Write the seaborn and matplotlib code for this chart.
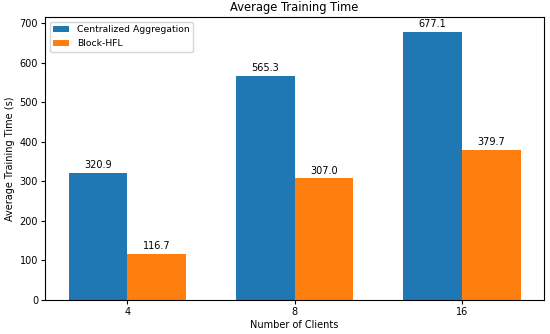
import pandas as pd
import matplotlib
matplotlib.use("Agg")
import matplotlib.pyplot as plt
import seaborn as sns

clients = ["4", "8", "16"]
centralized = [320.9, 565.3, 677.1]
block_hfl = [116.7, 307.0, 379.7]
methods = ["Centralized Aggregation", "Block-HFL"]

df = pd.DataFrame({
    "Number of Clients": clients * 2,
    "Time": centralized + block_hfl,
    "Method": [methods[0]] * 3 + [methods[1]] * 3,
})

plt.rcParams["font.family"] = ["DejaVu Sans"]

fig, ax = plt.subplots(figsize=(5.5, 3.34), dpi=100)
sns.barplot(data=df, x="Number of Clients", y="Time", hue="Method",
            order=clients, hue_order=methods, palette=["#1f77b4", "#ff7f0e"],
            width=0.7, gap=0, saturation=1, errorbar=None, ax=ax)

for c in ax.containers:
    ax.bar_label(c, fmt="%.1f", padding=2, fontsize=7)

ax.set_title("Average Training Time", fontsize=8.3, pad=4)
ax.set_xlabel("Number of Clients", fontsize=7, labelpad=2)
ax.set_ylabel("Average Training Time (s)", fontsize=7, labelpad=3)
ax.set_xlim(-0.49, 2.49)
ax.set_ylim(0, 715)
ax.tick_params(labelsize=7, length=3, pad=2)
ax.legend(loc="upper left", fontsize=6.7, handlelength=1.7)

fig.subplots_adjust(left=0.082, right=0.989, top=0.949, bottom=0.102)
fig.savefig("out.png", dpi=100)
